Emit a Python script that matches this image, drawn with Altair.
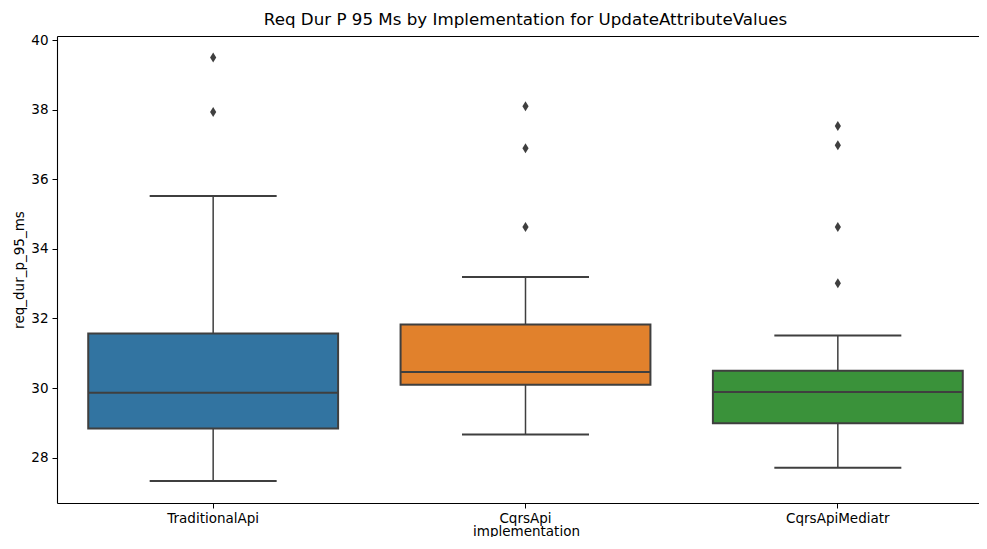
import altair as alt
import pandas as pd

implementations = ["TraditionalApi", "CqrsApi", "CqrsApiMediatr"]
whisker_low = [27.33, 28.67, 27.71]
q1 = [28.84, 30.10, 28.99]
median = [29.865, 30.46, 29.885]
q3 = [31.57, 31.83, 30.50]
whisker_high = [35.52, 33.19, 31.51]
box_colors = ["#3274a1", "#e1812c", "#3a923a"]

outlier_impl = ["TraditionalApi", "TraditionalApi",
                "CqrsApi", "CqrsApi", "CqrsApi",
                "CqrsApiMediatr", "CqrsApiMediatr", "CqrsApiMediatr", "CqrsApiMediatr"]
outlier_values = [39.50, 37.93,
                  38.10, 36.89, 34.63,
                  37.53, 36.98, 34.63, 33.01]

boxes = pd.DataFrame({
    "implementation": implementations,
    "lo": whisker_low, "q1": q1, "med": median, "q3": q3, "hi": whisker_high,
})
outliers = pd.DataFrame({"implementation": outlier_impl, "value": outlier_values})

LINE = "#3f3f3f"
FONT = "DejaVu Sans"

# the original axes run slightly past the right edge of the picture
x_scale = alt.Scale(domain=implementations, paddingInner=0, paddingOuter=0, range=[0, 937])


def xe(axis=None):
    return alt.X("implementation:N", sort=implementations, scale=x_scale, axis=axis)


bottom_axis = alt.Axis(title="implementation", labelAngle=0, orient="bottom",
                       titleX=469, titleY=28, titleBaseline="middle", labelPadding=3)
top_axis = alt.Axis(title=None, labels=False, ticks=False, orient="top")
y_scale = alt.Scale(domain=[26.70, 40.115], nice=False, zero=False)
y_axis = alt.Axis(title="req_dur_p_95_ms", values=[28, 30, 32, 34, 36, 38, 40], grid=False)


def ye(field):
    return alt.Y(field, scale=y_scale, axis=y_axis)


base = alt.Chart(boxes)

low_whisker = base.mark_rule(color=LINE, strokeWidth=1.5).encode(
    x=xe(), y=ye("lo:Q"), y2="q1:Q")
high_whisker = base.mark_rule(color=LINE, strokeWidth=1.5).encode(
    x=xe(), y=ye("q3:Q"), y2="hi:Q")
low_cap = base.mark_tick(color=LINE, size=127, thickness=2, opacity=1).encode(
    x=xe(), y=ye("lo:Q"))
high_cap = base.mark_tick(color=LINE, size=127, thickness=2, opacity=1).encode(
    x=xe(), y=ye("hi:Q"))
box = base.mark_bar(width=alt.RelativeBandSize(0.8), stroke=LINE, strokeWidth=2, opacity=1).encode(
    x=xe(bottom_axis), y=ye("q1:Q"), y2="q3:Q",
    color=alt.Color("implementation:N", sort=implementations,
                    scale=alt.Scale(domain=implementations, range=box_colors), legend=None))
med = base.mark_tick(color=LINE, size=250, thickness=2, opacity=1).encode(
    x=xe(top_axis), y=ye("med:Q"))
pts = alt.Chart(outliers).mark_point(
    shape="M0,-1L0.62,0L0,1L-0.62,0Z", filled=True, color=LINE, size=100, opacity=1
).encode(x=xe(), y=ye("value:Q"))

chart = alt.layer(low_whisker, high_whisker, low_cap, high_cap, box, med, pts).resolve_axis(
    x="independent"
).properties(
    width=921, height=467,
    title=alt.TitleParams("Req Dur P 95 Ms by Implementation for UpdateAttributeValues",
                          fontSize=16.7, font=FONT, fontWeight="normal", color="black",
                          offset=4, dx=8),
    autosize=alt.AutoSizeParams(type="none"),
    padding={"left": 49, "top": 28, "right": 1, "bottom": 34},
).configure_view(strokeWidth=0).configure_axis(
    labelFont=FONT, titleFont=FONT, labelFontSize=13.5, titleFontSize=13.5,
    labelColor="black", titleColor="black", titleFontWeight="normal",
    domainColor="black", domainWidth=1.1, tickColor="black", tickSize=5, labelPadding=4,
)

chart.save("out.html", embed_options={"renderer": "svg", "actions": False})
